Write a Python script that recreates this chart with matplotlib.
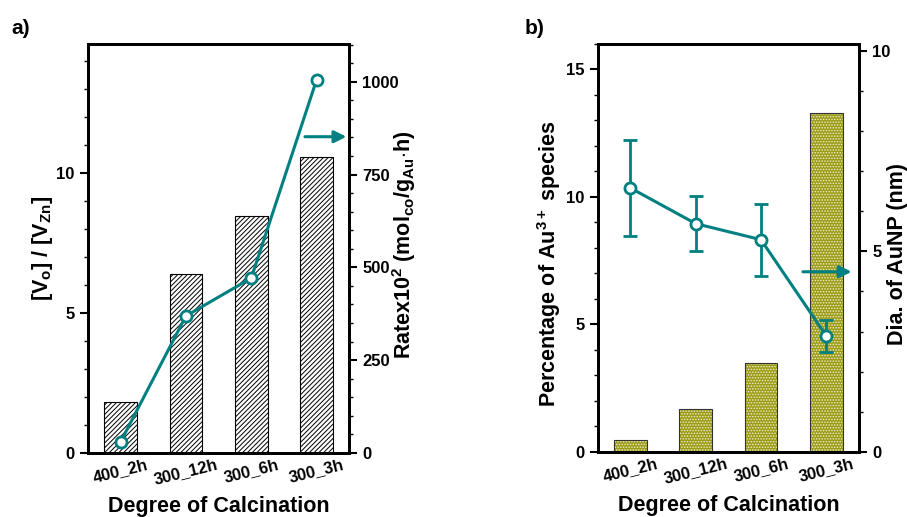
import matplotlib
matplotlib.use('Agg')
from matplotlib import pyplot as plt
from matplotlib.ticker import MultipleLocator
import numpy as np

plt.rcParams['font.family'] = ['Liberation Sans', 'DejaVu Sans']
plt.rcParams['font.weight'] = 'bold'
plt.rcParams['axes.labelweight'] = 'bold'
plt.rcParams['mathtext.fontset'] = 'custom'
plt.rcParams['mathtext.rm'] = 'Liberation Sans:bold'
plt.rcParams['mathtext.bf'] = 'Liberation Sans:bold'
plt.rcParams['mathtext.it'] = 'Liberation Sans:bold'
plt.rcParams['hatch.linewidth'] = 0.7

# data
samples = ['400_2h', '300_12h', '300_6h', '300_3h']
vo_vzn = [1.8, 6.4, 8.47, 10.57]
rate = [30, 369, 471, 1005]
au3_pct = [0.47, 1.69, 3.49, 13.3]
dia_aunp = [6.58, 5.69, 5.29, 2.89]
dia_err = [1.2, 0.68, 0.9, 0.4]

teal = '#008080'
x = np.arange(len(samples))

fig = plt.figure(figsize=(9.07, 5.17), dpi=100)


def style_axis(ax):
    for s in ax.spines.values():
        s.set_linewidth(2)
    ax.tick_params(axis='y', which='major', direction='out', length=6, width=1.5, labelsize=12)
    ax.tick_params(axis='y', which='minor', direction='out', length=3, width=1)


# ---- panel a ----
axa = fig.add_axes([0.097, 0.124, 0.288, 0.791])
axa.bar(x, vo_vzn, width=0.5, color='white', edgecolor='black', hatch='///////', linewidth=0.8)
axa.set_xlim(-0.5, 3.5)
axa.set_ylim(0, 14.6)
axa.yaxis.set_major_locator(MultipleLocator(5))
axa.yaxis.set_minor_locator(MultipleLocator(1))
axa.set_xticks(x)
axa.set_xticklabels(samples, rotation=14, fontsize=12)
axa.tick_params(axis='x', length=0, pad=3)
axa.set_xlabel('Degree of Calcination', fontsize=15.5, labelpad=6)
axa.set_ylabel('[V$_\\mathrm{o}$] / [V$_\\mathrm{Zn}$]', fontsize=15.5)
axa.yaxis.set_label_coords(-0.126, 0.5)
style_axis(axa)

axa2 = axa.twinx()
axa2.plot(x, rate, color=teal, lw=2.2, marker='o', ms=8, mfc='white', mec=teal, mew=2)
axa2.set_ylim(0, 1102)
axa2.yaxis.set_major_locator(MultipleLocator(250))
axa2.yaxis.set_minor_locator(MultipleLocator(50))
axa2.set_ylabel('Ratex10$^\\mathrm{2}$ (mol$_\\mathrm{co}$/g$_\\mathrm{Au}$$\\cdot$h)', fontsize=15.5)
axa2.yaxis.set_label_coords(1.157, 0.51)
style_axis(axa2)
axa2.annotate('', xy=(3.5, 852), xytext=(2.78, 852),
              arrowprops=dict(arrowstyle='-|>', color=teal, lw=2.2, mutation_scale=18))
fig.text(0.013, 0.945, 'a)', fontsize=15, fontweight='bold', va='center')

# ---- panel b ----
axb = fig.add_axes([0.659, 0.126, 0.288, 0.789])
axb.bar(x, au3_pct, width=0.5, color='#9c9c1c', edgecolor='#f0f0c4', hatch='......', linewidth=0)
axb.bar(x, au3_pct, width=0.5, color='none', edgecolor='#333333', linewidth=0.8)
axb.set_xlim(-0.5, 3.5)
axb.set_ylim(0, 16)
axb.yaxis.set_major_locator(MultipleLocator(5))
axb.yaxis.set_minor_locator(MultipleLocator(1))
axb.set_xticks(x)
axb.set_xticklabels(samples, rotation=14, fontsize=12)
axb.tick_params(axis='x', length=0, pad=3)
axb.set_xlabel('Degree of Calcination', fontsize=15.5, labelpad=6)
axb.set_ylabel('Percentage of Au$^\\mathrm{3+}$ species', fontsize=15.5)
axb.yaxis.set_label_coords(-0.134, 0.46)
style_axis(axb)

axb2 = axb.twinx()
axb2.errorbar(x, dia_aunp, yerr=dia_err, color=teal, lw=2.2, marker='o', ms=8,
              mfc='white', mec=teal, mew=2, capsize=5, capthick=2, elinewidth=2)
axb2.set_ylim(0, 10.17)
axb2.yaxis.set_major_locator(MultipleLocator(5))
axb2.yaxis.set_minor_locator(MultipleLocator(1))
axb2.set_ylabel('Dia. of AuNP (nm)', fontsize=15.5)
axb2.yaxis.set_label_coords(1.106, 0.485)
style_axis(axb2)
axb2.annotate('', xy=(3.43, 4.49), xytext=(2.6, 4.49),
              arrowprops=dict(arrowstyle='-|>', color=teal, lw=2.2, mutation_scale=18))
fig.text(0.578, 0.945, 'b)', fontsize=15, fontweight='bold', va='center')

plt.savefig('out.png', dpi=100)
